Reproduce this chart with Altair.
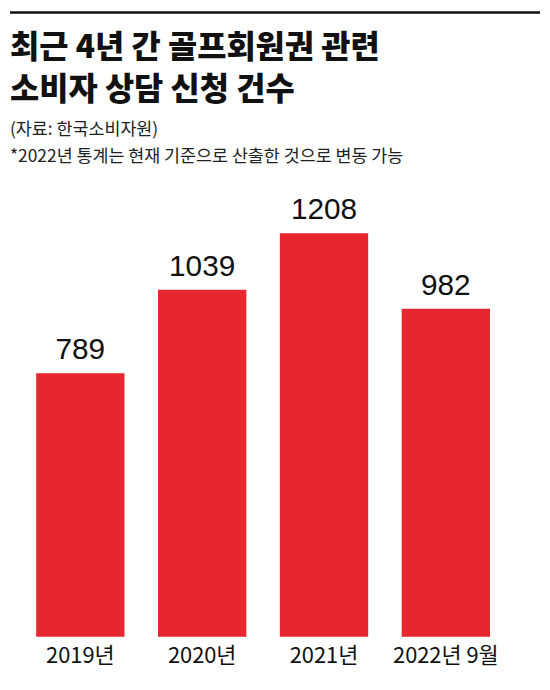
import altair as alt
import pandas as pd

categories = ["2019년", "2020년", "2021년", "2022년 9월"]
values = [789, 1039, 1208, 982]

title_lines = ["최근 4년 간 골프회원권 관련", "소비자 상담 신청 건수"]
subtitle_lines = ["(자료: 한국소비자원)", "*2022년 통계는 현재 기준으로 산출한 것으로 변동 가능"]

df = pd.DataFrame({"year": categories, "count": values})

KR = "Noto Sans CJK KR"
RED = "#e8262f"

x_enc = alt.X(
    "year:N",
    sort=categories,
    title=None,
    scale=alt.Scale(paddingInner=0.275, paddingOuter=0.215),
    axis=alt.Axis(
        domain=False,
        ticks=False,
        labelAngle=0,
        labelFont=KR,
        labelFontSize=22,
        labelColor="#111111",
        labelPadding=9,
    ),
)
y_enc = alt.Y("count:Q", axis=None, scale=alt.Scale(domain=[0, 1364], nice=False))

base = alt.Chart(df).encode(x=x_enc, y=y_enc)

bars = base.mark_bar(color=RED)
labels = base.mark_text(
    baseline="bottom",
    dy=-8,
    font="Liberation Sans",
    fontSize=30,
    color="#111111",
).encode(text="count:Q")

main = alt.layer(bars, labels).properties(
    width=510,
    height=459,
    title=alt.TitleParams(
        text=title_lines,
        subtitle=subtitle_lines,
        anchor="start",
        frame="group",
        font=KR,
        fontSize=32,
        fontWeight=900,
        lineHeight=43,
        color="#111111",
        subtitleFont=KR,
        subtitleFontSize=17.5,
        subtitleLineHeight=27,
        subtitleColor="#222222",
        subtitlePadding=14,
        offset=15,
    ),
)

top_rule = (
    alt.Chart(pd.DataFrame({"a": [0]}))
    .mark_rule(color="#111111", strokeWidth=2.5)
    .encode(x=alt.value(0), x2=alt.value(534), y=alt.value(1))
    .properties(width=534, height=2)
)

chart = (
    alt.vconcat(top_rule, main, spacing=17)
    .properties(padding={"left": 0, "top": 0, "right": 0, "bottom": 0})
    .configure_view(stroke=None)
)

chart.save("out.html", embed_options={"renderer": "svg", "actions": False})
